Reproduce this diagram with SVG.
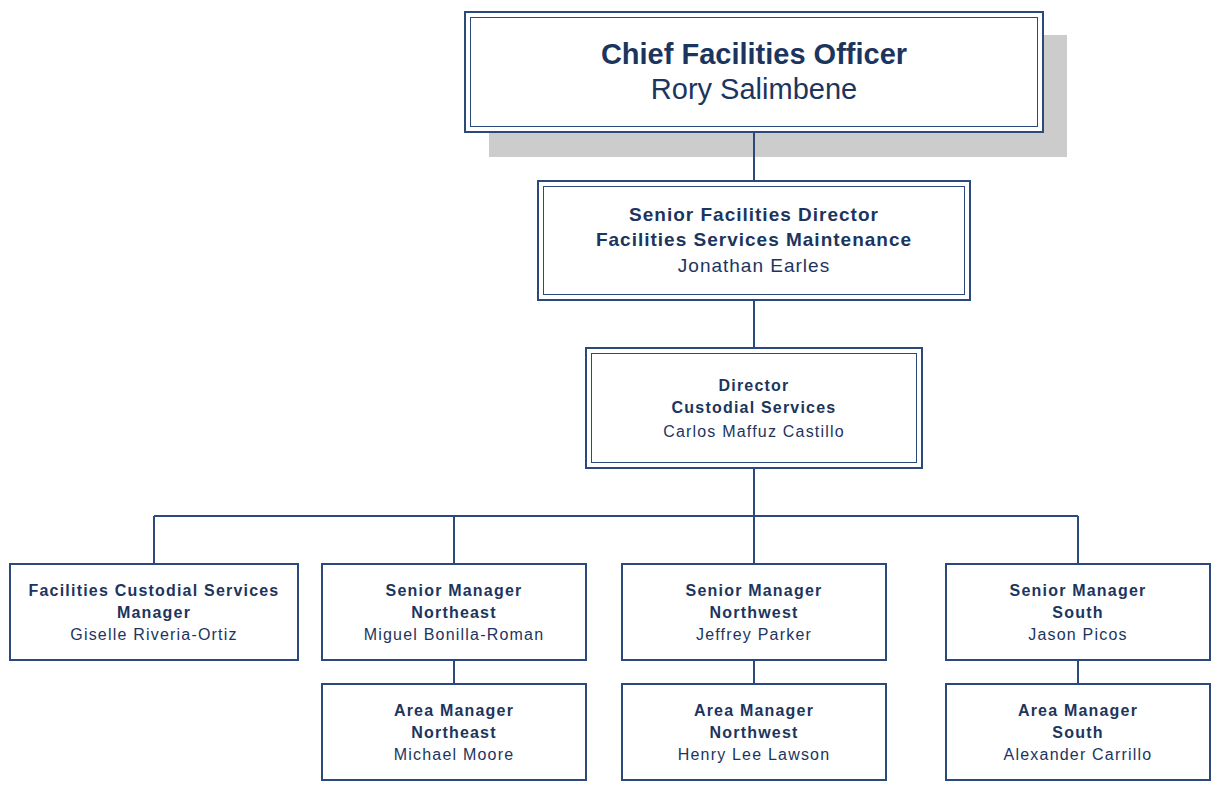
<svg xmlns="http://www.w3.org/2000/svg" width="1216" height="785" viewBox="0 0 1216 785">
<style>
.box{fill:#fff;stroke:#2b4a7c;stroke-width:2}
.inner{fill:none;stroke:#2b4a7c;stroke-width:1}
.ln{stroke:#2b4a7c;stroke-width:2;fill:none}
text{font-family:"Liberation Sans",Arial,sans-serif;fill:#1c355e;text-anchor:middle}
.b{font-weight:bold}
.s{font-size:16px;letter-spacing:1.2px}
.m{font-size:19px;letter-spacing:1px}
.l{font-size:29px}
</style>
<rect x="489" y="35" width="578" height="122" fill="#cccccc"/>
<g id="connectors">
<path class="ln" d="M754 132V181M754 300V348M754 468V516M154 516H1078M154 516V564M454 516V564M754 516V564M1078 516V564M454 660V684M754 660V684M1078 660V684"/>
</g>
<g id="cfo">
<rect class="box" x="465" y="12" width="578" height="120"/>
<rect class="inner" x="470.5" y="17.5" width="567" height="109"/>
<text class="l b" x="754" y="64">Chief Facilities Officer</text>
<text class="l" x="754" y="99">Rory Salimbene</text>
</g>
<g id="sfd">
<rect class="box" x="538" y="181" width="432" height="119"/>
<rect class="inner" x="543.5" y="186.5" width="421" height="108"/>
<text class="m b" x="754" y="221">Senior Facilities Director</text>
<text class="m b" x="754" y="246">Facilities Services Maintenance</text>
<text class="m" x="754" y="272">Jonathan Earles</text>
</g>
<g id="dcs">
<rect class="box" x="586" y="348" width="336" height="120"/>
<rect class="inner" x="591.5" y="353.5" width="325" height="109"/>
<text class="s b" x="754" y="391">Director</text>
<text class="s b" x="754" y="413">Custodial Services</text>
<text class="s" x="754" y="437">Carlos Maffuz Castillo</text>
</g>
<g id="fcsm">
<rect class="box" x="10" y="564" width="288" height="96"/>
<text class="s b" x="154" y="596">Facilities Custodial Services</text>
<text class="s b" x="154" y="618">Manager</text>
<text class="s" x="154" y="640">Giselle Riveria-Ortiz</text>
</g>
<g id="smne">
<rect class="box" x="322" y="564" width="264" height="96"/>
<text class="s b" x="454" y="596">Senior Manager</text>
<text class="s b" x="454" y="618">Northeast</text>
<text class="s" x="454" y="640">Miguel Bonilla-Roman</text>
</g>
<g id="smnw">
<rect class="box" x="622" y="564" width="264" height="96"/>
<text class="s b" x="754" y="596">Senior Manager</text>
<text class="s b" x="754" y="618">Northwest</text>
<text class="s" x="754" y="640">Jeffrey Parker</text>
</g>
<g id="sms">
<rect class="box" x="946" y="564" width="264" height="96"/>
<text class="s b" x="1078" y="596">Senior Manager</text>
<text class="s b" x="1078" y="618">South</text>
<text class="s" x="1078" y="640">Jason Picos</text>
</g>
<g id="amne">
<rect class="box" x="322" y="684" width="264" height="96"/>
<text class="s b" x="454" y="716">Area Manager</text>
<text class="s b" x="454" y="738">Northeast</text>
<text class="s" x="454" y="760">Michael Moore</text>
</g>
<g id="amnw">
<rect class="box" x="622" y="684" width="264" height="96"/>
<text class="s b" x="754" y="716">Area Manager</text>
<text class="s b" x="754" y="738">Northwest</text>
<text class="s" x="754" y="760">Henry Lee Lawson</text>
</g>
<g id="ams">
<rect class="box" x="946" y="684" width="264" height="96"/>
<text class="s b" x="1078" y="716">Area Manager</text>
<text class="s b" x="1078" y="738">South</text>
<text class="s" x="1078" y="760">Alexander Carrillo</text>
</g>
</svg>
